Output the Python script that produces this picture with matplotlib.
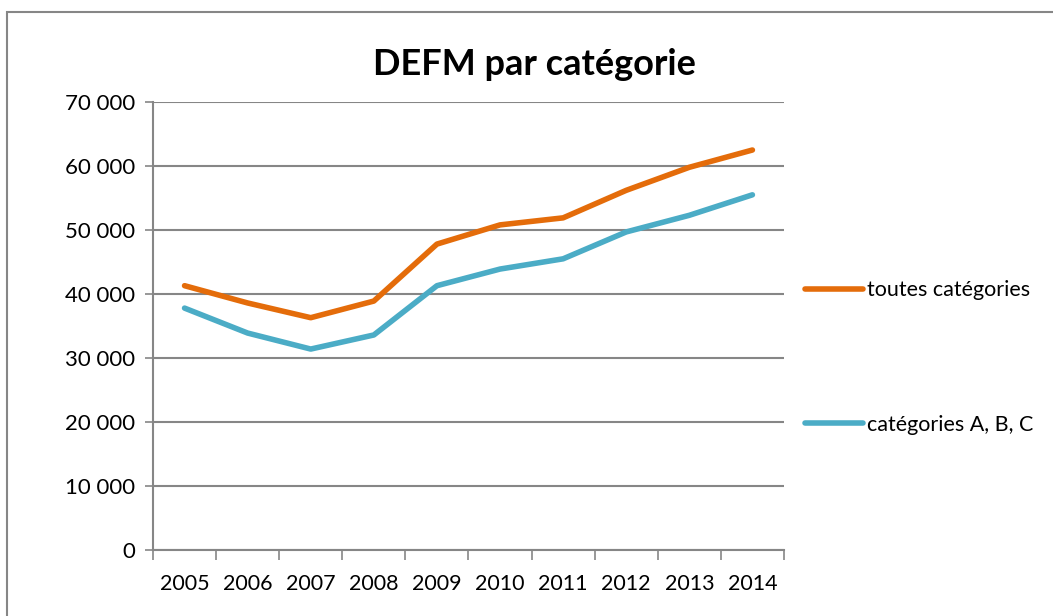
"""DEFM par catégorie : courbes annuelles 2005-2014."""

import matplotlib

matplotlib.use("Agg")
import matplotlib.pyplot as plt  # noqa: E402
from matplotlib.patches import Rectangle  # noqa: E402
from matplotlib.ticker import FuncFormatter  # noqa: E402

ANNEES = ["2005", "2006", "2007", "2008", "2009", "2010", "2011", "2012", "2013", "2014"]
TOUTES = [41300, 38600, 36300, 38900, 47800, 50800, 51900, 56200, 59800, 62500]
ABC = [37800, 33900, 31400, 33600, 41300, 43900, 45500, 49700, 52300, 55500]

COULEUR_TOUTES = "#E46C0A"
COULEUR_ABC = "#4BACC6"
GRIS = "#868686"

plt.rcParams["font.family"] = ["Lato", "DejaVu Sans"]

fig = plt.figure(figsize=(10.53, 6.16), dpi=100)
ax = fig.add_axes([0.1453, 0.1071, 0.5992, 0.7273])

# cadre du graphique (coupé à droite et en bas comme la capture)
fig.patches.append(
    Rectangle((7 / 1053, -0.1), 1.2, 1 - 12 / 616 + 0.1, transform=fig.transFigure,
              fill=False, edgecolor=GRIS, linewidth=1.5)
)

x = list(range(len(ANNEES)))
ax.plot(x, TOUTES, color=COULEUR_TOUTES, linewidth=4, label="toutes catégories",
        solid_capstyle="round")
ax.plot(x, ABC, color=COULEUR_ABC, linewidth=4, label="catégories A, B, C",
        solid_capstyle="round")

ax.set_xlim(-0.5, len(ANNEES) - 0.5)
ax.set_ylim(0, 70000)
ax.set_yticks(range(0, 70001, 10000))
ax.yaxis.set_major_formatter(FuncFormatter(lambda v, p: f"{int(v):,}".replace(",", " ")))

# graduations aux limites des catégories, étiquettes au centre
ax.set_xticks([i - 0.5 for i in range(len(ANNEES) + 1)])
ax.set_xticklabels([])
ax.set_xticks(x, minor=True)
ax.set_xticklabels(ANNEES, minor=True)
ax.tick_params(axis="x", which="major", length=7, width=1.2, color=GRIS, direction="out")
ax.tick_params(axis="x", which="minor", length=0, pad=17, labelsize=15.5)
ax.tick_params(axis="y", length=6, width=1.2, color=GRIS, labelsize=16, pad=7)

ax.grid(axis="y", color=GRIS, linewidth=1.5)
ax.set_axisbelow(True)
for cote in ["top", "right"]:
    ax.spines[cote].set_visible(False)
for cote in ["left", "bottom"]:
    ax.spines[cote].set_color(GRIS)
    ax.spines[cote].set_linewidth(1.5)

fig.text(0.508, 0.895, "DEFM par catégorie", ha="center", va="center",
         fontsize=26, fontweight="bold")

ax.legend(loc="upper left", bbox_to_anchor=(1.02, 0.621), frameon=False, fontsize=15.5,
          handlelength=2.7, handletextpad=0.15, labelspacing=5.3, borderaxespad=0)

fig.savefig("out.png", dpi=100)
